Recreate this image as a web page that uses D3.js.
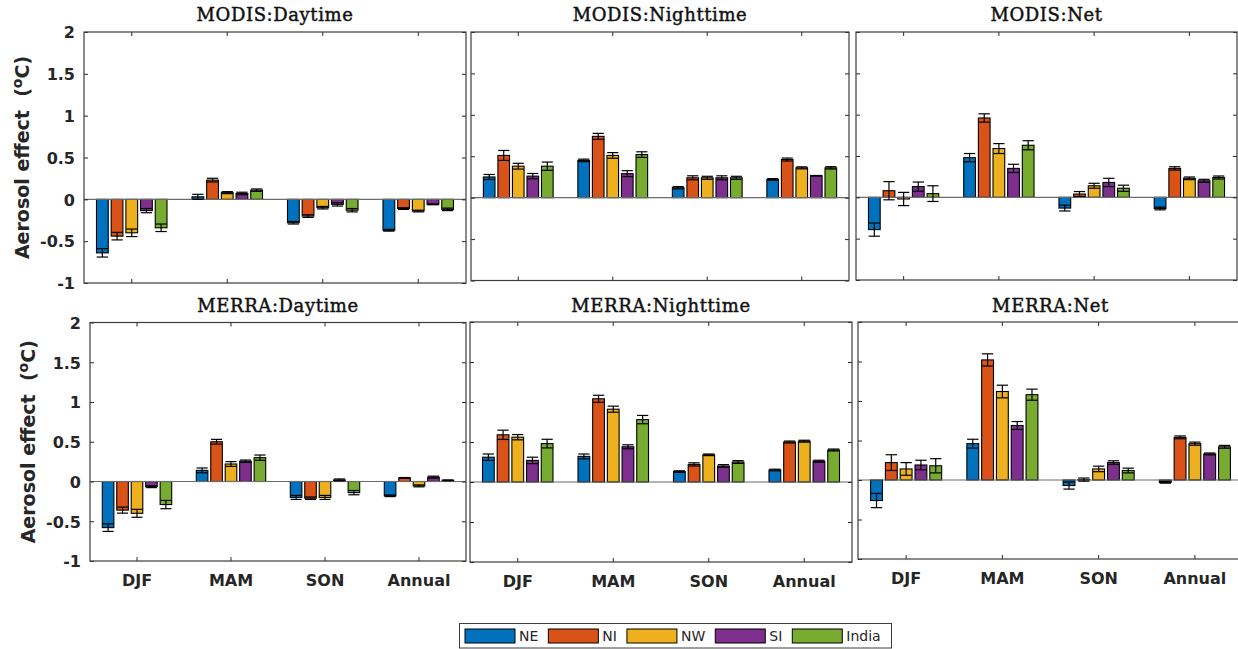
<!DOCTYPE html>
<html>
<head>
<meta charset="utf-8">
<script src="https://cdn.jsdelivr.net/npm/d3@7"></script>
<style>
  body { margin: 0; background: #fff; }
  svg { display: block; }
  .tick text { font-family: "DejaVu Sans", sans-serif; font-weight: bold; font-size: 16px; fill: #262626; }
  .tick line { stroke: #262626; }
  .title { font-family: "DejaVu Serif", serif; font-size: 18px; letter-spacing: 0.6px; fill: #111; }
  .ylab { font-family: "DejaVu Sans", sans-serif; font-weight: bold; font-size: 19px; fill: #262626; white-space: pre; }
  .legtext { font-family: "DejaVu Sans", sans-serif; font-size: 14px; fill: #262626; }
</style>
</head>
<body>
<svg id="chart" width="1238" height="649"></svg>
<script>
// categories and series
const seasons = ['DJF', 'MAM', 'SON', 'Annual'];
const regions = ['NE', 'NI', 'NW', 'SI', 'India'];
const colors = ['#0072BD', '#D95319', '#EDB120', '#7E2F8E', '#77AC30'];
const yTicks = [-1, -0.5, 0, 0.5, 1, 1.5, 2];
const yTickLabels = ['-1', '-0.5', '0', '0.5', '1', '1.5', '2'];

// values: one row per season, columns NE, NI, NW, SI, India
const modisDay = [
  [-0.64, -0.44, -0.40, -0.135, -0.34],
  [0.03, 0.23, 0.08, 0.07, 0.11],
  [-0.28, -0.20, -0.10, -0.06, -0.13],
  [-0.37, -0.11, -0.14, -0.06, -0.12]
];
const modisDayErr = [
  [0.05, 0.045, 0.045, 0.025, 0.045],
  [0.03, 0.022, 0.012, 0.015, 0.014],
  [0.015, 0.016, 0.015, 0.02, 0.02],
  [0.01, 0.01, 0.01, 0.005, 0.015]
];
const modisNight = [
  [0.25, 0.51, 0.38, 0.26, 0.38],
  [0.45, 0.74, 0.51, 0.29, 0.52],
  [0.12, 0.24, 0.24, 0.24, 0.24],
  [0.22, 0.46, 0.36, 0.265, 0.36]
];
const modisNightErr = [
  [0.03, 0.06, 0.035, 0.032, 0.05],
  [0.015, 0.036, 0.034, 0.036, 0.034],
  [0.014, 0.024, 0.018, 0.024, 0.018],
  [0.01, 0.018, 0.012, 0.003, 0.014]
];
const modisNet = [
  [-0.39, 0.08, -0.02, 0.13, 0.045],
  [0.48, 0.96, 0.59, 0.35, 0.63],
  [-0.13, 0.04, 0.14, 0.18, 0.11],
  [-0.135, 0.35, 0.23, 0.20, 0.24]
];
const modisNetErr = [
  [0.08, 0.11, 0.08, 0.055, 0.095],
  [0.05, 0.05, 0.06, 0.05, 0.055],
  [0.035, 0.03, 0.03, 0.05, 0.037],
  [0.016, 0.02, 0.016, 0.018, 0.018]
];
const merraDay = [
  [-0.58, -0.36, -0.40, -0.065, -0.29],
  [0.14, 0.50, 0.22, 0.255, 0.30],
  [-0.20, -0.21, -0.20, 0.02, -0.14],
  [-0.18, 0.045, -0.055, 0.055, 0.015]
];
const merraDayErr = [
  [0.048, 0.038, 0.05, 0.012, 0.052],
  [0.03, 0.03, 0.03, 0.015, 0.033],
  [0.025, 0.015, 0.025, 0.012, 0.027],
  [0.01, 0.005, 0.012, 0.012, 0.005]
];
const merraNight = [
  [0.31, 0.59, 0.56, 0.27, 0.48],
  [0.32, 1.04, 0.91, 0.44, 0.78],
  [0.13, 0.22, 0.34, 0.20, 0.25],
  [0.15, 0.50, 0.51, 0.26, 0.40]
];
const merraNightErr = [
  [0.04, 0.058, 0.033, 0.04, 0.054],
  [0.03, 0.044, 0.038, 0.025, 0.052],
  [0.01, 0.02, 0.01, 0.017, 0.017],
  [0.01, 0.012, 0.012, 0.012, 0.012]
];
const merraNet = [
  [-0.26, 0.22, 0.14, 0.19, 0.18],
  [0.46, 1.52, 1.12, 0.69, 1.08],
  [-0.07, 0.005, 0.14, 0.22, 0.12],
  [-0.03, 0.54, 0.46, 0.33, 0.42]
];
const merraNetErr = [
  [0.09, 0.1, 0.08, 0.06, 0.09],
  [0.056, 0.077, 0.08, 0.05, 0.07],
  [0.045, 0.02, 0.035, 0.023, 0.03],
  [0.01, 0.018, 0.02, 0.012, 0.018]
];

const titles = ['MODIS:Daytime', 'MODIS:Nighttime', 'MODIS:Net', 'MERRA:Daytime', 'MERRA:Nighttime', 'MERRA:Net'];
const panelValues = [modisDay, modisNight, modisNet, merraDay, merraNight, merraNet];
const panelErrors = [modisDayErr, modisNightErr, modisNetErr, merraDayErr, merraNightErr, merraNetErr];

const boxes = [
  {x0: 84, x1: 466, y0: 32, y1: 283},
  {x0: 471, x1: 849, y0: 32, y1: 280.5},
  {x0: 856, x1: 1237, y0: 32, y1: 280},
  {x0: 90, x1: 466, y0: 322.5, y1: 561},
  {x0: 470, x1: 852, y0: 322, y1: 562},
  {x0: 858, x1: 1243, y0: 322, y1: 559}
];

const svg = d3.select('#chart');
const tickLen = 4;

boxes.forEach((b, p) => {
  const vals = panelValues[p], errs = panelErrors[p];
  const row = p < 3 ? 0 : 1, col = p % 3;

  const x = d3.scaleBand().domain(seasons).range([b.x0, b.x1]);
  // grouped bars take ~0.77 of each category slot (matlab style)
  const groupW = x.bandwidth() * 0.769;
  const xs = d3.scaleBand().domain(regions).range([0, groupW]).paddingInner(0.2).paddingOuter(0.1);
  const y = d3.scaleLinear().domain([-1, 2]).range([b.y1, b.y0]);

  const g = svg.append('g');

  // bars
  seasons.forEach((s, i) => {
    const gx = x(s) + (x.bandwidth() - groupW) / 2;
    g.selectAll(null)
      .data(vals[i])
      .enter().append('rect')
      .attr('x', (d, j) => gx + xs(regions[j]))
      .attr('y', d => Math.min(y(d), y(0)))
      .attr('width', xs.bandwidth())
      .attr('height', d => Math.abs(y(d) - y(0)))
      .attr('fill', (d, j) => colors[j])
      .attr('stroke', '#000')
      .attr('stroke-width', 1.1);
  });

  // zero baseline
  g.append('line')
    .attr('x1', b.x0).attr('x2', b.x1)
    .attr('y1', y(0)).attr('y2', y(0))
    .attr('stroke', '#6b6b6b').attr('stroke-width', 1.2);

  // error bars
  seasons.forEach((s, i) => {
    const gx = x(s) + (x.bandwidth() - groupW) / 2;
    const cap = xs.bandwidth() * 0.48;
    vals[i].forEach((v, j) => {
      const cx = gx + xs(regions[j]) + xs.bandwidth() / 2;
      const e = errs[i][j];
      const eb = g.append('g').attr('stroke', '#000').attr('stroke-width', 1.2);
      eb.append('line').attr('x1', cx).attr('x2', cx).attr('y1', y(v - e)).attr('y2', y(v + e));
      eb.append('line').attr('x1', cx - cap).attr('x2', cx + cap).attr('y1', y(v - e)).attr('y2', y(v - e));
      eb.append('line').attr('x1', cx - cap).attr('x2', cx + cap).attr('y1', y(v + e)).attr('y2', y(v + e));
    });
  });

  // axes with inward ticks
  const fmt = (d) => yTickLabels[yTicks.indexOf(d)];
  const left = g.append('g').attr('transform', `translate(${b.x0},0)`)
    .call(d3.axisLeft(y).tickValues(yTicks).tickSizeInner(-tickLen).tickSizeOuter(0)
      .tickPadding(9).tickFormat(col === 0 ? fmt : ''));
  left.selectAll('.tick text').attr('x', -9).attr('dy', '0.36em');
  g.append('g').attr('transform', `translate(${b.x1},0)`)
    .call(d3.axisRight(y).tickValues(yTicks).tickSizeInner(-tickLen).tickSizeOuter(0).tickFormat(''));
  const bottom = g.append('g').attr('transform', `translate(0,${b.y1})`)
    .call(d3.axisBottom(x).tickSizeInner(-tickLen).tickSizeOuter(0)
      .tickFormat(row === 1 ? (d => d) : ''));
  bottom.selectAll('.tick text').attr('y', 0).attr('dy', 24.5);
  g.append('g').attr('transform', `translate(0,${b.y0})`)
    .call(d3.axisTop(x).tickSizeInner(-tickLen).tickSizeOuter(0).tickFormat(''));
  g.selectAll('.domain').remove();

  // frame
  g.append('rect')
    .attr('x', b.x0).attr('y', b.y0)
    .attr('width', b.x1 - b.x0).attr('height', b.y1 - b.y0)
    .attr('fill', 'none').attr('stroke', '#3c3c3c').attr('stroke-width', 1.2);

  // title
  svg.append('text').attr('class', 'title')
    .attr('x', (b.x0 + b.x1) / 2).attr('y', row === 0 ? 21 : 312)
    .attr('text-anchor', 'middle')
    .attr('stroke', '#111').attr('stroke-width', 0.45)
    .text(titles[p]);

  // y label on the left column
  if (col === 0) {
    const t = svg.append('text').attr('class', 'ylab')
      .attr('text-anchor', 'middle')
      .attr('transform', `translate(${row === 0 ? 29 : 34.5},${(b.y0 + b.y1) / 2}) rotate(-90)`);
    t.append('tspan').text('Aerosol effect  (');
    t.append('tspan').attr('dy', -7).attr('font-size', 14).text('o');
    t.append('tspan').attr('dy', 7).text('C)');
  }
});

// legend
const leg = svg.append('g');
leg.append('rect')
  .attr('x', 459.5).attr('y', 623.5).attr('width', 432).attr('height', 24.5)
  .attr('fill', '#fff').attr('stroke', '#3c3c3c').attr('stroke-width', 1);
let lx = 465;
regions.forEach((r, j) => {
  leg.append('rect')
    .attr('x', lx).attr('y', 629).attr('width', 50).attr('height', 14)
    .attr('fill', colors[j]).attr('stroke', '#000').attr('stroke-width', 1);
  const t = leg.append('text').attr('class', 'legtext')
    .attr('x', lx + 54).attr('y', 641).text(r);
  lx = lx + 54 + t.node().getComputedTextLength() + 10;
});
</script>
</body>
</html>
